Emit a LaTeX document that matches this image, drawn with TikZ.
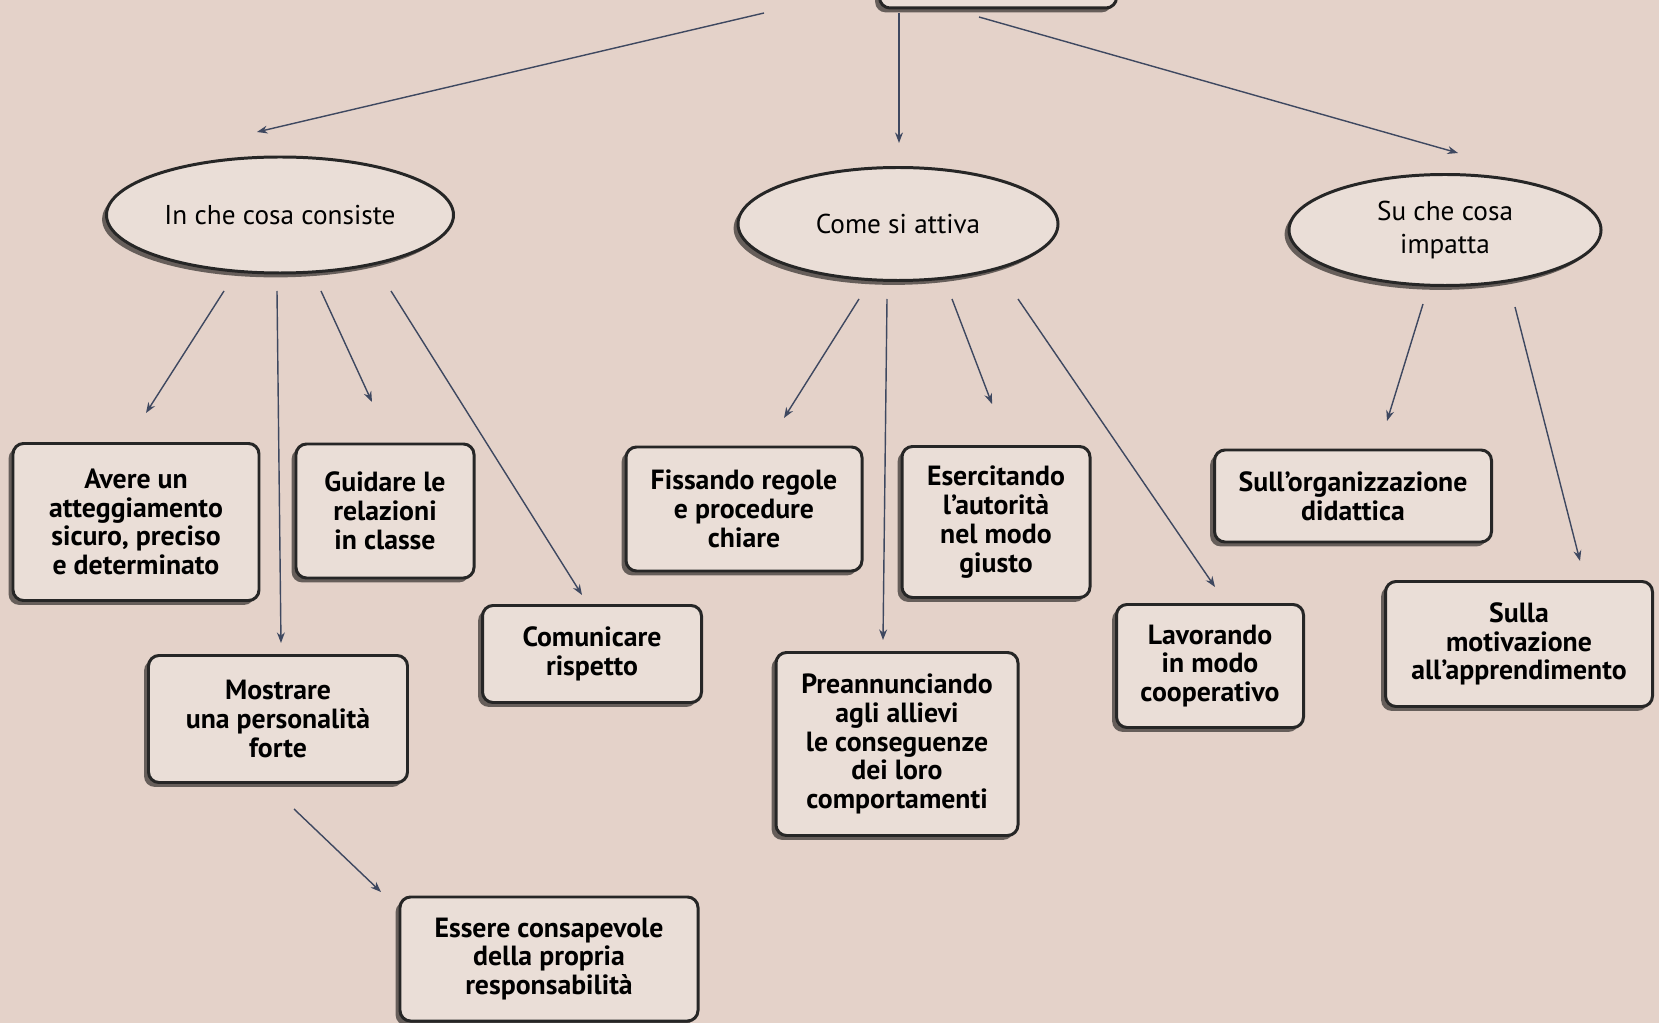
\documentclass[tikz,border=0pt]{standalone}
\usepackage{fontspec}
\setmainfont{PT Sans}
\usetikzlibrary{arrows.meta,shapes.geometric,shadows}

\definecolor{paper}{RGB}{228,210,201}
\definecolor{boxfill}{RGB}{234,222,215}
\definecolor{arrowcol}{RGB}{62,72,96}
\newlength\px
\setlength\px{0.02cm}

\tikzset{
	topic/.style={ellipse,draw=black!85,line width=1.7pt,fill=boxfill,
		drop shadow={shadow xshift=-2.5pt,shadow yshift=-2.5pt,fill=black,opacity=0.55},
		inner sep=0pt,font=\fontsize{15.5}{19}\selectfont,align=center},
	leaf/.style={rounded corners=6pt,draw=black!85,line width=1.7pt,fill=boxfill,
		drop shadow={shadow xshift=-2.5pt,shadow yshift=-2.5pt,fill=black,opacity=0.55},
		inner sep=0pt,font=\fontsize{15.8}{16.4}\selectfont\bfseries,align=center},
	arr/.style={-{Stealth[length=6pt,width=4.5pt]},draw=arrowcol,line width=0.8pt},
}

\begin{document}
\begin{tikzpicture}[x=0.02cm,y=-0.02cm]
	\useasboundingbox (0,0) rectangle (1659,1023);
	\clip (0,0) rectangle (1659,1023);
	\fill[paper] (0,0) rectangle (1659,1023);

	% top box, cut off by the page edge
	\node[leaf,minimum width=237\px,minimum height=96\px] (root) at (998,-40) {};

	% the three questions
	\node[topic,minimum width=347\px,minimum height=116\px] (consiste) at (280,215) {In che cosa consiste};
	\node[topic,minimum width=320\px,minimum height=113\px] (attiva) at (898,224) {Come si attiva};
	\node[topic,minimum width=312\px,minimum height=111\px] (impatta) at (1445,230) {Su che cosa\\impatta};

	% In che cosa consiste
	\node[leaf,minimum width=246\px,minimum height=157\px] (avere) at (136,522) {Avere un\\atteggiamento\\sicuro, preciso\\e determinato};
	\node[leaf,minimum width=178\px,minimum height=134\px] (guidare) at (385,511) {Guidare le\\relazioni\\in classe};
	\node[leaf,minimum width=259\px,minimum height=127\px] (mostrare) at (278,719) {Mostrare\\una personalità\\forte};
	\node[leaf,minimum width=219\px,minimum height=97\px] (comunicare) at (592,654) {Comunicare\\rispetto};
	\node[leaf,minimum width=298\px,minimum height=124\px] (essere) at (549,959) {Essere consapevole\\della propria\\responsabilità};

	% Come si attiva
	\node[leaf,minimum width=236\px,minimum height=124\px] (fissando) at (744,509) {Fissando regole\\e procedure\\chiare};
	\node[leaf,minimum width=188\px,minimum height=151\px] (esercitando) at (996,522) {Esercitando\\l’autorità\\nel modo\\giusto};
	\node[leaf,minimum width=242\px,minimum height=183\px] (preannunciando) at (897,744) {Preannunciando\\agli allievi\\le conseguenze\\dei loro\\comportamenti};
	\node[leaf,minimum width=187\px,minimum height=123\px] (lavorando) at (1210,666) {Lavorando\\in modo\\cooperativo};

	% Su che cosa impatta
	\node[leaf,minimum width=277\px,minimum height=92\px] (organizzazione) at (1353,496) {Sull’organizzazione\\didattica};
	\node[leaf,minimum width=267\px,minimum height=125\px] (motivazione) at (1519,644) {Sulla\\motivazione\\all’apprendimento};

	% arrows
	\draw[arr] ([shift={(-234,53)}]root.center) -- ([shift={(-23,-83)}]consiste.center);
	\draw[arr] ([shift={(-99,53)}]root.center) -- ([shift={(1,-81)}]attiva.center);
	\draw[arr] ([shift={(-19,57)}]root.center) -- ([shift={(13,-77)}]impatta.center);

	\draw[arr] ([shift={(-56,76)}]consiste.center) -- ([shift={(10,-109)}]avere.center);
	\draw[arr] ([shift={(-3,76)}]consiste.center) -- ([shift={(3,-76)}]mostrare.center);
	\draw[arr] ([shift={(41,76)}]consiste.center) -- ([shift={(-13,-109)}]guidare.center);
	\draw[arr] ([shift={(111,76)}]consiste.center) -- ([shift={(-10,-59)}]comunicare.center);
	\draw[arr] ([shift={(16,90)}]mostrare.center) -- ([shift={(-168,-67)}]essere.center);

	\draw[arr] ([shift={(-39,75)}]attiva.center) -- ([shift={(40,-91)}]fissando.center);
	\draw[arr] ([shift={(-11,75)}]attiva.center) -- ([shift={(-14,-104)}]preannunciando.center);
	\draw[arr] ([shift={(54,75)}]attiva.center) -- ([shift={(-4,-118)}]esercitando.center);
	\draw[arr] ([shift={(120,75)}]attiva.center) -- ([shift={(5,-79)}]lavorando.center);

	\draw[arr] ([shift={(-22,74)}]impatta.center) -- ([shift={(34,-75)}]organizzazione.center);
	\draw[arr] ([shift={(70,77)}]impatta.center) -- ([shift={(61,-83)}]motivazione.center);
\end{tikzpicture}
\end{document}
